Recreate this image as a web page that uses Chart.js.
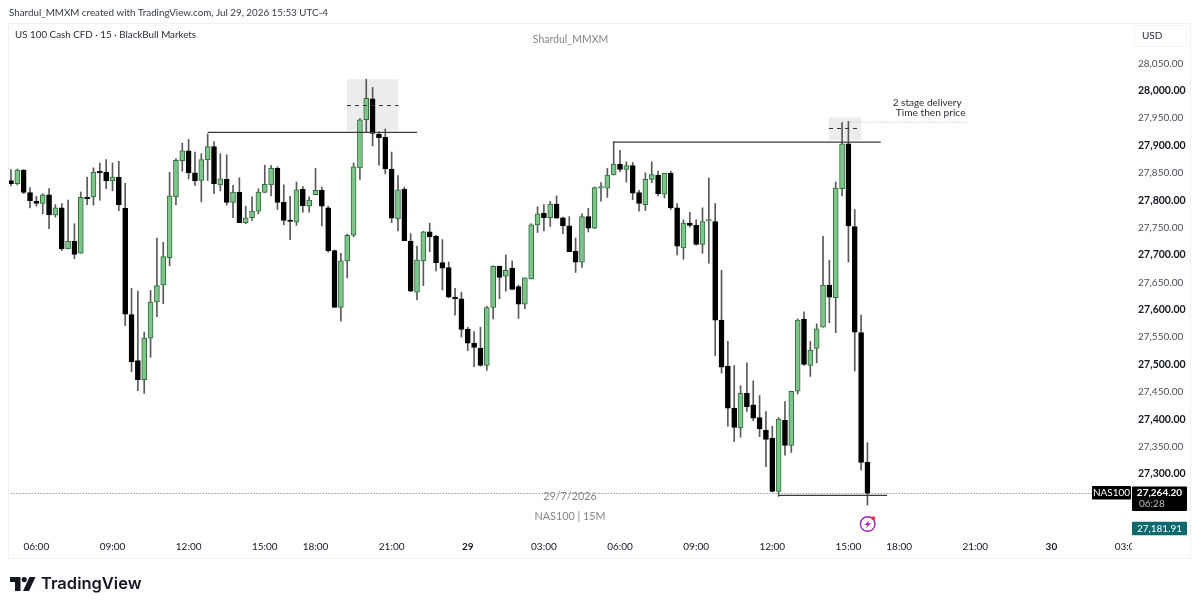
<!DOCTYPE html>
<html><head><meta charset="utf-8">
<style>html,body{margin:0;padding:0;background:#fff}canvas{display:block}</style>
<script src="https://cdn.jsdelivr.net/npm/chart.js@4"></script>
</head><body><canvas id="c" width="1199" height="608"></canvas>
<script>
const opens=[27836,27830,27855,27814,27798,27794,27810,27773,27786,27711,27725,27703,27805,27806,27852,27851,27835,27842,27785,27591,27507,27472,27548,27614,27645,27695,27806,27872,27890,27850,27836,27874,27898,27828,27838,27796,27815,27759,27768,27780,27814,27828,27858,27796,27762,27760,
27820,27789,27810,27818,27786,27708,27604,27689,27736,27859,27947,27985,27921,27915,27857,27766,27820,27725,27632,27689,27742,27734,27686,27677,27623,27620,27564,27539,27530,27498,27604,27679,27661,27676,27642,27610,27656,27755,27776,27768,27793,27768,27753,27707,27687,27770,
27749,27822,27822,27846,27866,27856,27863,27814,27792,27838,27846,27811,27849,27786,27713,27758,27754,27719,27762,27761,27581,27497,27420,27384,27447,27426,27403,27380,
27365,27268,27398,27352,27451,27583,27498,27529,27568,27645,27622,27821,27903,27752,27558,27321];
const highs=[27856,27857,27856,27823,27807,27812,27821,27792,27794,27800,27757,27815,27842,27859,27868,27874,27868,27871,27831,27639,27634,27559,27635,27731,27723,27851,27876,27904,27911,27888,27885,27921,27907,27885,27883,27827,27841,27789,27806,27821,27864,27863,27861,27828,27807,27833,
27825,27806,27858,27824,27789,27709,27703,27738,27868,27949,28021,28006,27925,27930,27888,27845,27824,27739,27716,27743,27758,27736,27728,27687,27639,27632,27568,27560,27568,27606,27680,27680,27700,27689,27645,27658,27757,27788,27792,27798,27808,27769,27770,27731,27775,27785,
27824,27832,27858,27907,27891,27870,27869,27818,27850,27870,27853,27849,27853,27794,27764,27778,27764,27786,27841,27794,27672,27542,27498,27461,27503,27470,27443,27414,
27387,27403,27432,27451,27583,27596,27542,27574,27734,27690,27833,27942,27944,27783,27590,27357];
const lows=[27826,27828,27812,27786,27789,27775,27748,27769,27708,27711,27693,27703,27792,27791,27800,27821,27817,27781,27571,27487,27452,27447,27513,27587,27611,27680,27792,27853,27839,27827,27797,27836,27812,27817,27791,27768,27759,27757,27763,27775,27814,27808,27783,27755,27728,27754,
27778,27778,27810,27753,27705,27604,27579,27658,27733,27838,27924,27899,27864,27848,27759,27744,27726,27633,27618,27644,27706,27671,27636,27622,27590,27550,27525,27496,27497,27489,27583,27620,27634,27637,27584,27602,27656,27741,27744,27752,27767,27739,27706,27668,27677,27742,
27748,27798,27805,27846,27852,27833,27801,27780,27781,27832,27808,27804,27783,27700,27692,27751,27718,27703,27685,27516,27484,27387,27359,27367,27414,27397,27368,27313,
27267,27259,27334,27339,27446,27498,27478,27503,27568,27576,27558,27808,27687,27488,27307,27243];
const closes=[27830,27855,27814,27799,27794,27810,27773,27786,27711,27725,27701,27805,27803,27851,27850,27835,27842,27792,27592,27505,27472,27548,27614,27644,27697,27808,27873,27890,27850,27835,27874,27898,27830,27839,27796,27815,27759,27768,27780,27815,27829,27858,27796,27763,27761,27819,
27790,27800,27818,27789,27708,27604,27689,27736,27861,27947,27986,27922,27914,27857,27767,27819,27726,27634,27691,27742,27733,27686,27676,27623,27620,27564,27539,27531,27498,27604,27679,27659,27672,27637,27610,27658,27755,27775,27768,27793,27767,27753,27706,27687,27770,27749,
27823,27823,27846,27866,27856,27863,27813,27794,27838,27847,27812,27849,27786,27716,27758,27754,27719,27761,27764,27581,27495,27420,27385,27447,27423,27402,27382,27363,
27268,27400,27352,27451,27581,27500,27526,27565,27645,27623,27822,27903,27753,27559,27321,27264.2];

const xTickIndex=[4,16,28,40,48,60,72,84,96,108,120,132,140,152,164,176];
const xTickLabels=['06:00','09:00','12:00','15:00','18:00','21:00','29','03:00','06:00','09:00','12:00','15:00','18:00','21:00','30','03:00'];
const yTickValues=[27300,27350,27400,27450,27500,27550,27600,27650,27700,27750,27800,27850,27900,27950,28000,28050];

const levelA=[[31,27924],[64,27924]];
const levelB=[[95,27906],[137.1,27906]];
const levelC=[[121,27260.6],[138.1,27260.6]];
const lastPrice=[[-1,27264.2],[178,27264.2]];
const timePriceNote=[[132.3,27942.5],[150.85,27942.5]];
const zoneA=[52.96,61.08,28021,27927,27974];
const zoneB=[128.94,133.98,27951,27910,27931];

const FONT='Lato';
const BULL='#7fc48a',BULLEDGE='#2f6d3c',BEAR='#000000',WICK='#595959',INK='#131722',GREY='#4a4e59';
const idx=opens.map((_,i)=>i);
const wicks=idx.map(i=>({x:i,y:[lows[i],highs[i]]}));
const bodies=idx.map(i=>({x:i,y:[opens[i],closes[i]]}));
const isUp=c=>closes[c.dataIndex]>=opens[c.dataIndex];
const pts=a=>a.map(p=>({x:p[0],y:p[1]}));
const lineDs=(data,color,width,dash)=>({type:'line',data:pts(data),borderColor:color,borderWidth:width,borderDash:dash||[],pointRadius:0,fill:false,order:0,tension:0});

function txt(g,s,x,y,font,color,align){g.font=font;g.fillStyle=color;g.textAlign=align||'left';g.textBaseline='middle';g.fillText(s,x,y);}
function rr(g,x,y,w,h,r,fill,stroke){g.beginPath();g.roundRect(x,y,w,h,r);if(fill){g.fillStyle=fill;g.fill();}if(stroke){g.strokeStyle=stroke;g.lineWidth=1;g.stroke();}}

const zones={id:'zones',beforeDatasetsDraw(ch){
  const g=ch.ctx,X=ch.scales.x,Y=ch.scales.y;
  g.save();
  [zoneA,zoneB].forEach(z=>{
    const l=X.getPixelForValue(z[0]),r=X.getPixelForValue(z[1]),t=Y.getPixelForValue(z[2]),b=Y.getPixelForValue(z[3]);
    g.fillStyle='#ececec';g.fillRect(l,t,r-l,b-t);
  });
  g.restore();
},afterDatasetsDraw(ch){
  const g=ch.ctx,X=ch.scales.x,Y=ch.scales.y;
  g.save();
  g.strokeStyle='#333';g.lineWidth=1;g.setLineDash([4,4]);
  [zoneA,zoneB].forEach(z=>{
    const l=X.getPixelForValue(z[0]),r=X.getPixelForValue(z[1]),m=Math.round(Y.getPixelForValue(z[4]))+.5;
    g.beginPath();g.moveTo(l,m);g.lineTo(r,m);g.stroke();
  });
  g.restore();
}};

const overlay={id:'overlay',beforeDraw(ch){
  const g=ch.ctx;
  g.save();g.fillStyle='#fff';g.fillRect(0,0,1199,608);
  g.strokeStyle='#eff1f5';g.lineWidth=1;
  g.strokeRect(8.5,23.5,1182,535);
  g.restore();
},afterDraw(ch){
  const g=ch.ctx;
  g.save();
  g.fillStyle='#fff';g.fillRect(1132,538,57,20);
  txt(g,'Shardul_MMXM created with TradingView.com, Jul 29, 2026 15:53 UTC-4',9,13,'9.8px '+FONT,'#333a45');
  txt(g,'US 100 Cash CFD · 15 · BlackBull Markets',15,35,'9.8px '+FONT,'#2a2e39');
  txt(g,'Shardul_MMXM',570.5,39.5,'10.5px '+FONT,'#858585','center');
  txt(g,'29/7/2026',570,497,'10.8px '+FONT,'#858585','center');
  txt(g,'NAS100 | 15M',570,516.5,'10.8px '+FONT,'#858585','center');
  txt(g,'2 stage delivery',892.7,103,'10px '+FONT,'#2a2e39');
  txt(g,'Time then price',895.7,113,'10.2px '+FONT,'#2a2e39');
  rr(g,1134.5,25.5,52,21,3,'#fff','#f0f3fa');
  txt(g,'USD',1142,36,'10px '+FONT,'#2a2e39');
  rr(g,1092,486,39,13.5,1,'#000');
  txt(g,'NAS100',1111.5,493,'10px '+FONT,'#fff','center');
  rr(g,1132,486.5,55,24.5,1,'#000');
  txt(g,'27,264.20',1159.5,492.8,'bold 10px '+FONT,'#fff','center');
  txt(g,'06:28',1139,503.5,'10px '+FONT,'#bdbdbd');
  rr(g,1132,521.7,55,13.5,1,'#0a6a6e');
  txt(g,'27,181.91',1159.5,528.5,'10px '+FONT,'#fff','center');
  // replay icon
  g.beginPath();g.arc(867.7,524,7.3,0,Math.PI*2);g.strokeStyle='#9c27b0';g.lineWidth=1.4;g.stroke();
  g.fillStyle='#9c27b0';g.beginPath();g.moveTo(869.5,520);g.lineTo(864.5,525);g.lineTo(867.4,525);g.lineTo(866,528.3);g.lineTo(871,523.2);g.lineTo(868,523.2);g.closePath();g.fill();
  g.beginPath();g.arc(873.3,518.3,2,0,Math.PI*2);g.fillStyle='#f23645';g.fill();
  // logo
  g.fillStyle='#131722';
  g.beginPath();g.moveTo(10,577);g.lineTo(20.5,577);g.lineTo(20.5,591);g.lineTo(15,591);g.lineTo(15,582);g.lineTo(10,582);g.closePath();g.fill();
  g.beginPath();g.arc(24.2,579.6,2.6,0,Math.PI*2);g.fill();
  g.beginPath();g.moveTo(29.5,577);g.lineTo(35.5,577);g.lineTo(29,591);g.lineTo(23,591);g.closePath();g.fill();
  txt(g,'TradingView',41,584,'600 16.5px Inter','#131722');
  g.restore();
}};

new Chart(document.getElementById('c'),{
  type:'bar',
  data:{datasets:[
    {label:'body',data:bodies,barThickness:5,borderWidth:1,borderSkipped:false,minBarLength:1.5,order:1,
      backgroundColor:c=>isUp(c)?BULL:BEAR,borderColor:c=>isUp(c)?BULLEDGE:BEAR},
    {label:'wick',data:wicks,barThickness:1,borderWidth:0,backgroundColor:WICK,order:2},
    lineDs(levelA,'#3a3a3a',1.3),
    lineDs(levelB,'#3a3a3a',1.3),
    lineDs(levelC,'#3a3a3a',1.3),
    lineDs(lastPrice,'#6b6b6b',1,[1,2]),
    lineDs(timePriceNote,'#b5b5b5',1,[1,2])
  ]},
  plugins:[overlay,zones],
  options:{
    responsive:false,animation:false,devicePixelRatio:1,
    layout:{padding:{left:9,top:23,right:0,bottom:0}},
    datasets:{bar:{grouped:false}},
    plugins:{legend:{display:false},tooltip:{enabled:false},title:{display:false}},
    scales:{
      x:{type:'linear',min:-0.315,max:176.86,offset:false,
        grid:{display:false,drawTicks:false},border:{display:false},
        afterBuildTicks:s=>{s.ticks=xTickIndex.map(v=>({value:v}));},
        afterFit:s=>{s.height=71;},
        ticks:{autoSkip:false,maxRotation:0,padding:4,includeBounds:false,
          callback:v=>xTickLabels[xTickIndex.indexOf(v)],
          color:INK,
          font:c=>({family:'Lato',size:10,weight:/^\d\d$/.test(xTickLabels[c.index])?'bold':'normal'})}},
      y:{type:'linear',position:'right',min:27184.7,max:28123.7,
        grid:{display:false,drawTicks:false},border:{display:false},
        afterBuildTicks:s=>{s.ticks=yTickValues.map(v=>({value:v}));},
        afterFit:s=>{s.width=66;},
        ticks:{padding:5,autoSkip:false,
          callback:v=>v.toLocaleString('en-US',{minimumFractionDigits:2,maximumFractionDigits:2}),
          color:c=>yTickValues[c.index]%100===0?INK:GREY,
          font:c=>({family:'Lato',size:yTickValues[c.index]%100===0?10.5:10,weight:yTickValues[c.index]%100===0?'bold':'normal'})}}
    }
  }
});
</script></body></html>
